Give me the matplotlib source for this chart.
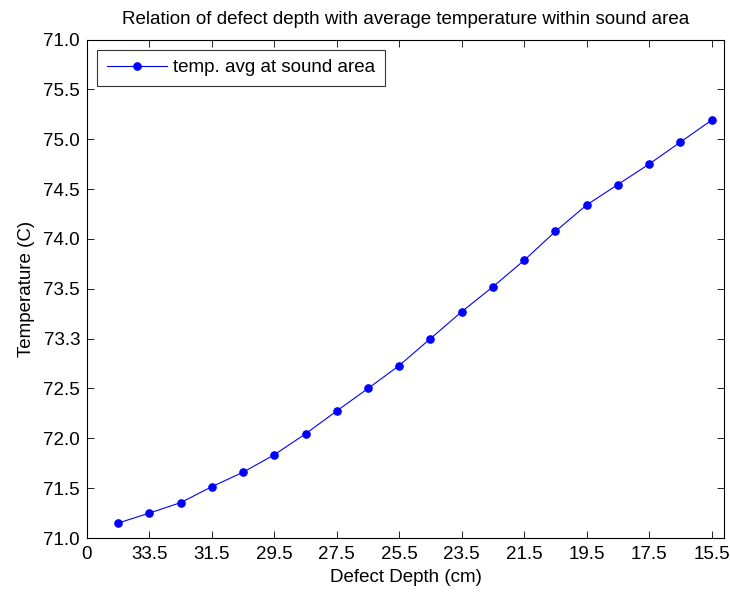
import matplotlib
matplotlib.use("Agg")
import matplotlib.pyplot as plt

plt.rcParams['font.family'] = ['Liberation Sans', 'DejaVu Sans']

# Measurement index along the scan (one per defect depth)
sample_index = [1, 2, 3, 4, 5, 6, 7, 8, 9, 10, 11, 12, 13, 14, 15, 16, 17, 18, 19, 20]
# Average temperature within the sound area (C)
temp_avg = [71.15, 71.25, 71.355, 71.515, 71.66, 71.835, 72.045, 72.275, 72.50, 72.73,
            73.00, 73.27, 73.52, 73.785, 74.075, 74.34, 74.545, 74.75, 74.97, 75.19]

x_tick_pos = [0, 2, 4, 6, 8, 10, 12, 14, 16, 18, 20]
x_tick_labels = ['0', '33.5', '31.5', '29.5', '27.5', '25.5', '23.5', '21.5', '19.5', '17.5', '15.5']
y_tick_pos = [71.0, 71.5, 72.0, 72.5, 73.0, 73.5, 74.0, 74.5, 75.0, 75.5, 76.0]
y_tick_labels = ['71.0', '71.5', '72.0', '72.5', '73.3', '73.5', '74.0', '74.5', '75.0', '75.5', '71.0']

fs = 13.5
fig = plt.figure(figsize=(7.30, 5.94), dpi=100)
ax = fig.add_axes([87 / 730, (594 - 538) / 594, (724 - 87) / 730, (538 - 39.5) / 594])

ax.plot(sample_index, temp_avg, color='#0000ff', linewidth=0.8, marker='o',
        markersize=5.2, markerfacecolor='#0000ff', markeredgecolor='#0000ff',
        label='temp. avg at sound area')

ax.set_xlim(0, 20.4)
ax.set_ylim(71.0, 76.0)
ax.set_xticks(x_tick_pos)
ax.set_xticklabels(x_tick_labels, fontsize=fs)
ax.set_yticks(y_tick_pos)
ax.set_yticklabels(y_tick_labels, fontsize=fs)
ax.tick_params(direction='in', length=5, width=0.6, top=True, right=True, colors='black')
ax.tick_params(axis='x', pad=6)
ax.tick_params(axis='y', pad=5)
for s in ax.spines.values():
    s.set_linewidth(0.8)

ax.set_title('Relation of defect depth with average temperature within sound area',
             fontsize=fs, pad=11)
ax.set_xlabel('Defect Depth (cm)', fontsize=fs, labelpad=4)
ax.set_ylabel('Temperature (C)', fontsize=fs, labelpad=6)

leg = ax.legend(loc='upper left', fontsize=fs, frameon=True, fancybox=False,
                edgecolor='black', borderaxespad=0.55, handlelength=3.2,
                handletextpad=0.35, borderpad=0.5)
leg.get_frame().set_linewidth(0.8)

fig.savefig('out.png', dpi=100, facecolor='white')
